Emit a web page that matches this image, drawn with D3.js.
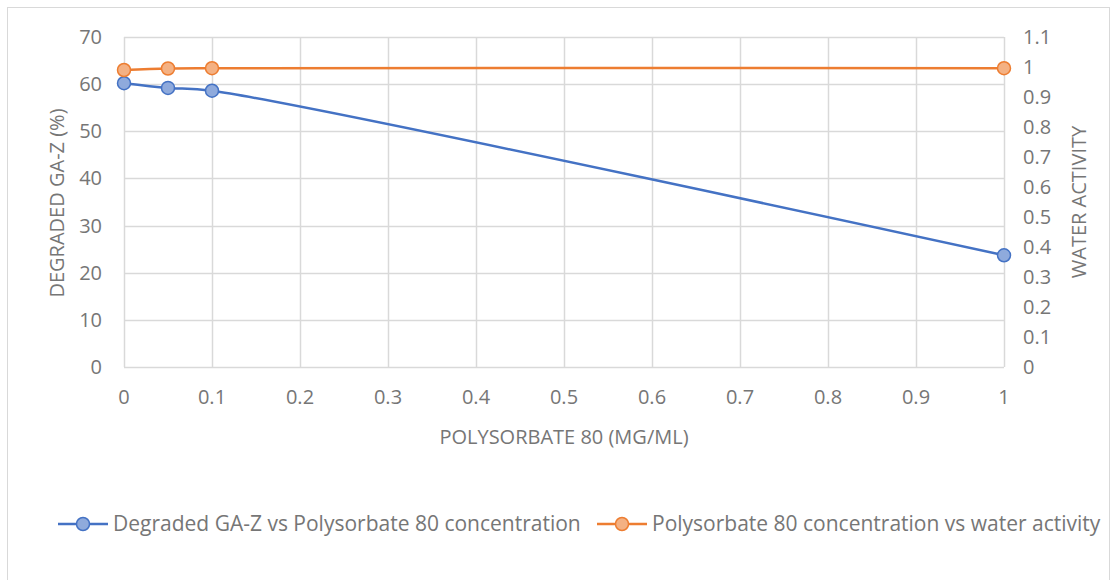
<!DOCTYPE html>
<html>
<head>
<meta charset="utf-8">
<script src="https://cdn.jsdelivr.net/npm/d3@7"></script>
<style>
  body { margin: 0; background: #fff; }
  text { font-family: "Open Sans", "Noto Sans", sans-serif; fill: #767676; }
</style>
</head>
<body>
<script>
// data
var concentration = [0, 0.05, 0.1, 1];
var degraded = [60.2, 59.2, 58.6, 23.7];
var waterActivity = [0.99, 0.995, 0.996, 0.996];
var xTicks = [0, 0.1, 0.2, 0.3, 0.4, 0.5, 0.6, 0.7, 0.8, 0.9, 1];
var leftTicks = [0, 10, 20, 30, 40, 50, 60, 70];
var rightTicks = [0, 0.1, 0.2, 0.3, 0.4, 0.5, 0.6, 0.7, 0.8, 0.9, 1, 1.1];
var seriesNames = ["Degraded GA-Z vs Polysorbate 80 concentration", "Polysorbate 80 concentration vs water activity"];

let width = 1117, height = 580;
let margin = {top: 37, left: 124, right: 113, bottom: 213};

var svg = d3.select("body").append("svg")
    .attr("width", width)
    .attr("height", height);

// outer frame
svg.append("rect")
    .attr("x", 7.5).attr("y", 7.5)
    .attr("width", 1102).attr("height", 580)
    .attr("fill", "none")
    .attr("stroke", "#d9d9d9");

var x = d3.scaleLinear().domain([0, 1]).range([margin.left, width - margin.right]);
var yL = d3.scaleLinear().domain([0, 70]).range([height - margin.bottom, margin.top]);
var yR = d3.scaleLinear().domain([0, 1.1]).range([height - margin.bottom, margin.top]);

// grid
svg.append("g").selectAll("line").data(leftTicks).enter().append("line")
    .attr("x1", x(0)).attr("x2", x(1))
    .attr("y1", d => Math.round(yL(d)) + 0.5).attr("y2", d => Math.round(yL(d)) + 0.5)
    .attr("stroke", "#d9d9d9").attr("stroke-width", 1.5);
svg.append("g").selectAll("line").data(xTicks).enter().append("line")
    .attr("x1", d => Math.round(x(d)) + 0.5).attr("x2", d => Math.round(x(d)) + 0.5)
    .attr("y1", yL(70)).attr("y2", yL(0))
    .attr("stroke", "#d9d9d9").attr("stroke-width", 1.5);

// tick labels
svg.append("g").selectAll("text").data(leftTicks).enter().append("text")
    .attr("x", 102).attr("y", d => yL(d))
    .attr("dy", "0.35em")
    .attr("text-anchor", "end")
    .attr("font-size", "20px")
    .text(d => d);
svg.append("g").selectAll("text").data(rightTicks).enter().append("text")
    .attr("x", 1023).attr("y", d => yR(d))
    .attr("dy", "0.35em")
    .attr("text-anchor", "start")
    .attr("font-size", "20px")
    .text(d => d3.format("~g")(d));
svg.append("g").selectAll("text").data(xTicks).enter().append("text")
    .attr("x", d => x(d)).attr("y", 397)
    .attr("dy", "0.35em")
    .attr("text-anchor", "middle")
    .attr("font-size", "20px")
    .text(d => d3.format("~g")(d));

// axis titles
svg.append("text")
    .attr("transform", "translate(57,203) rotate(-90)")
    .attr("dy", "0.35em")
    .attr("text-anchor", "middle")
    .attr("font-size", "20px")
    .text("DEGRADED GA-Z (%)");
svg.append("text")
    .attr("transform", "translate(1079,202) rotate(-90)")
    .attr("dy", "0.35em")
    .attr("text-anchor", "middle")
    .attr("font-size", "20px")
    .text("WATER ACTIVITY");
svg.append("text")
    .attr("x", 564).attr("y", 437)
    .attr("dy", "0.35em")
    .attr("text-anchor", "middle")
    .attr("font-size", "20px")
    .text("POLYSORBATE 80 (MG/ML)");

// series
var series = [
    {name: seriesNames[0], values: degraded, y: yL, line: "#4472c4", fill: "#8faadc"},
    {name: seriesNames[1], values: waterActivity, y: yR, line: "#ed7d31", fill: "#f4b183"}
];

series.forEach(function (s) {
    var pts = concentration.map((c, i) => [c, s.values[i]]);
    var line = d3.line()
        .x(d => x(d[0]))
        .y(d => s.y(d[1]))
        .curve(d3.curveCatmullRom.alpha(0.5));
    svg.append("path")
        .datum(pts)
        .attr("d", line)
        .attr("fill", "none")
        .attr("stroke", s.line)
        .attr("stroke-width", 2.5);
    svg.append("g").selectAll("circle").data(pts).enter().append("circle")
        .attr("cx", d => x(d[0]))
        .attr("cy", d => s.y(d[1]))
        .attr("r", 6.5)
        .attr("fill", s.fill)
        .attr("stroke", s.line)
        .attr("stroke-width", 1.5);
});

// legend
var legendX = [58, 597];
var legend = svg.selectAll(".legend").data(series).enter().append("g")
    .attr("class", "legend")
    .attr("transform", (d, i) => "translate(" + legendX[i] + ",524)");
legend.append("line")
    .attr("x1", 0).attr("x2", 50)
    .attr("stroke", d => d.line)
    .attr("stroke-width", 2.5);
legend.append("circle")
    .attr("cx", 25).attr("r", 6.5)
    .attr("fill", d => d.fill)
    .attr("stroke", d => d.line)
    .attr("stroke-width", 1.5);
legend.append("text")
    .attr("x", 55)
    .attr("dy", "0.35em")
    .attr("font-size", "21px")
    .text(d => d.name);
</script>
</body>
</html>
